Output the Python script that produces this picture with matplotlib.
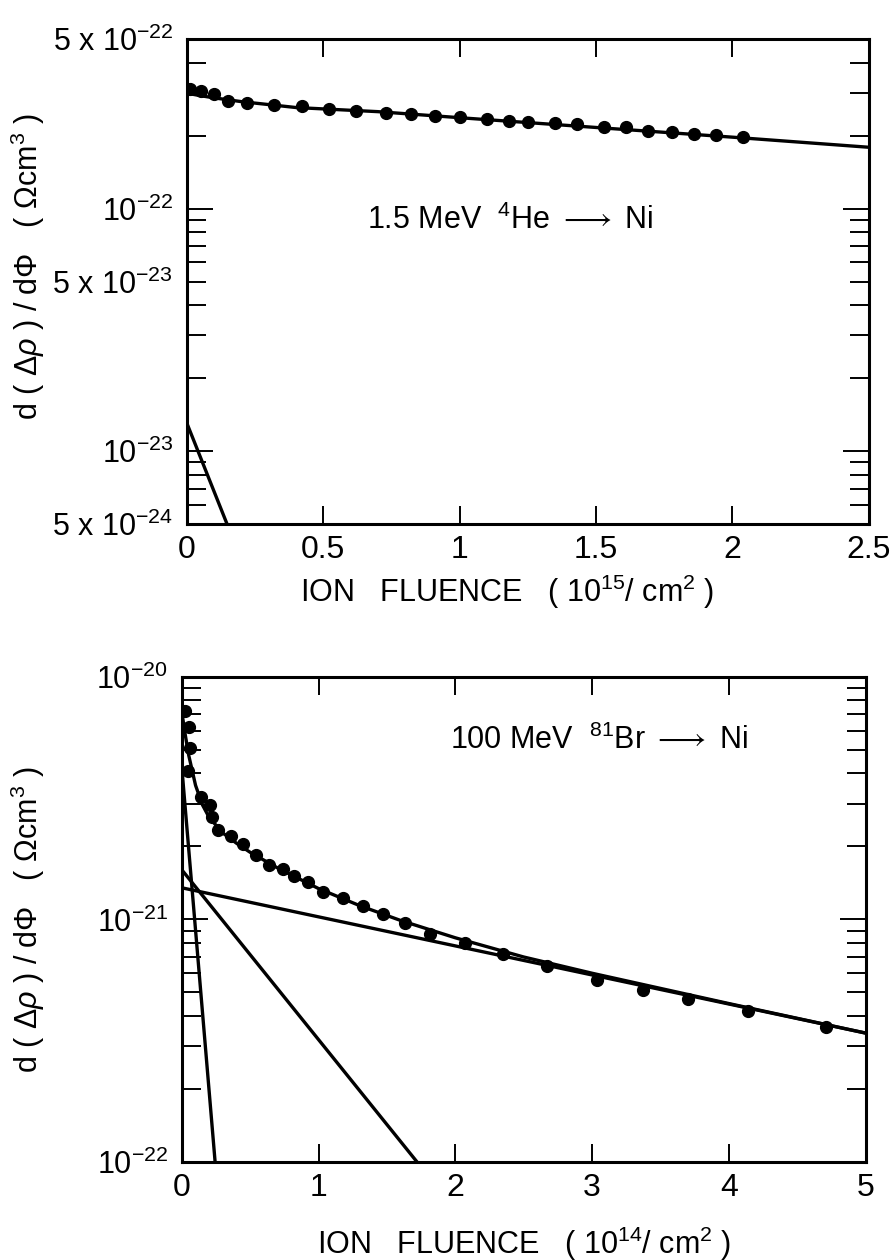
import numpy as np
import matplotlib
matplotlib.use('Agg')
from matplotlib import pyplot as plt
from matplotlib.ticker import LogLocator, FuncFormatter, NullFormatter

plt.rcParams['font.family'] = ['Liberation Sans', 'DejaVu Sans']
plt.rcParams['mathtext.fontset'] = 'custom'
plt.rcParams['mathtext.rm'] = 'Liberation Sans'
plt.rcParams['mathtext.it'] = 'Liberation Sans:italic'
plt.rcParams['mathtext.default'] = 'regular'
plt.rcParams['mathtext.fallback'] = 'stix'

# ---- top panel: 1.5 MeV 4He -> Ni ----
he_x = [0.01, 0.05, 0.10, 0.15, 0.22, 0.32, 0.42, 0.52, 0.62, 0.73, 0.82, 0.91,
        1.00, 1.10, 1.18, 1.25, 1.35, 1.43, 1.53, 1.61, 1.69, 1.78, 1.86, 1.94, 2.04]
he_y = [3.11e-22, 3.05e-22, 2.96e-22, 2.77e-22, 2.72e-22, 2.67e-22, 2.65e-22, 2.57e-22,
        2.52e-22, 2.48e-22, 2.45e-22, 2.41e-22, 2.38e-22, 2.34e-22, 2.29e-22, 2.27e-22,
        2.25e-22, 2.24e-22, 2.17e-22, 2.16e-22, 2.09e-22, 2.07e-22, 2.03e-22, 2.01e-22, 1.97e-22]
# fitted curve and its fast component
he_fit_x = [0.0, 0.05, 0.1, 0.2, 0.4, 0.7, 1.0, 1.5, 2.0, 2.5]
he_fit_y = [2.99e-22, 2.92e-22, 2.86e-22, 2.76e-22, 2.61e-22, 2.51e-22, 2.37e-22,
            2.16e-22, 1.97e-22, 1.79e-22]
he_fast_x = [0.0, 0.147]
he_fast_y = [1.3e-23, 5e-24]

# ---- bottom panel: 100 MeV 81Br -> Ni ----
br_x = [0.022, 0.051, 0.058, 0.044, 0.139, 0.205, 0.219, 0.263, 0.358, 0.446, 0.541,
        0.636, 0.738, 0.819, 0.921, 1.031, 1.177, 1.323, 1.469, 1.630, 1.813, 2.069,
        2.346, 2.668, 3.034, 3.370, 3.699, 4.137, 4.708]
br_y = [7.2e-21, 6.2e-21, 5.1e-21, 4.1e-21, 3.2e-21, 2.97e-21, 2.65e-21, 2.34e-21,
        2.21e-21, 2.05e-21, 1.85e-21, 1.68e-21, 1.62e-21, 1.51e-21, 1.43e-21, 1.30e-21,
        1.23e-21, 1.14e-21, 1.05e-21, 9.7e-22, 8.7e-22, 8.0e-22, 7.2e-22, 6.4e-22,
        5.65e-22, 5.1e-22, 4.7e-22, 4.2e-22, 3.6e-22]
br_fit_x = [0.0, 0.02, 0.05, 0.1, 0.15, 0.2, 0.3, 0.4, 0.5, 0.7, 1.0, 1.3, 1.6,
            2.0, 2.5, 3.0, 4.0, 5.0]
br_fit_y = [7.15e-21, 5.98e-21, 4.75e-21, 3.57e-21, 2.97e-21, 2.63e-21, 2.27e-21,
            2.06e-21, 1.89e-21, 1.63e-21, 1.34e-21, 1.14e-21, 9.9e-22, 8.4e-22,
            7.0e-22, 6.0e-22, 4.5e-22, 3.4e-22]
br_c1_x, br_c1_y = [0.0, 0.243], [4.2e-21, 1e-22]
br_c2_x, br_c2_y = [0.0, 1.72], [1.6e-21, 1e-22]
br_c3_x, br_c3_y = [0.0, 5.0], [1.35e-21, 3.4e-22]

top_xticks = [0, 0.5, 1, 1.5, 2, 2.5]
top_xlabels = ['0', '0.5', '1', '1.5', '2', '2.5']
bot_xticks = [0, 1, 2, 3, 4, 5]
bot_xlabels = ['0', '1', '2', '3', '4', '5']

ylabel_txt = r'd ( Δ$\it{ρ}$ ) / dΦ   ( Ωcm$^{3}$ )'


def dec_fmt(v, pos):
    e = int(round(np.log10(v)))
    return '10$^{%d}$' % e


def five_fmt(v, pos):
    e = int(np.floor(np.log10(v) + 1e-9))
    m = v / 10.0 ** e
    if abs(m - 5) < 0.01:
        return '5 x 10$^{%d}$' % e
    return ''


def style(ax, xticks, xlabels, label5):
    ax.set_yscale('log')
    ax.yaxis.set_major_locator(LogLocator(base=10, numticks=20))
    ax.yaxis.set_minor_locator(LogLocator(base=10, subs=np.arange(2, 10), numticks=20))
    ax.yaxis.set_major_formatter(FuncFormatter(dec_fmt))
    if label5:
        ax.yaxis.set_minor_formatter(FuncFormatter(five_fmt))
    else:
        ax.yaxis.set_minor_formatter(NullFormatter())
    ax.set_xticks(xticks)
    ax.set_xticklabels(xlabels)
    ax.tick_params(axis='both', which='both', direction='in', top=True, right=True,
                   width=1.4, labelsize=22, pad=10)
    ax.tick_params(axis='y', which='major', length=19)
    ax.tick_params(axis='y', which='minor', length=14)
    ax.tick_params(axis='x', which='major', length=13)
    ax.tick_params(axis='x', which='major', pad=8, labelsize=23)
    for s in ax.spines.values():
        s.set_linewidth(2.2)


fig = plt.figure(figsize=(8.96, 12.6), dpi=100)

ax1 = fig.add_axes([0.2087, 0.584, 0.761, 0.385])
ax1.plot(he_fit_x, he_fit_y, color='black', lw=2.4)
ax1.plot(he_fast_x, he_fast_y, color='black', lw=2.4)
ax1.plot(he_x, he_y, 'o', color='black', ms=8.5)
ax1.set_xlim(0, 2.5)
ax1.set_ylim(5e-24, 5e-22)
style(ax1, top_xticks, top_xlabels, True)
ax1.text(0.264, 0.627, r'1.5 MeV  $^{4}$He $\longrightarrow$ Ni', transform=ax1.transAxes,
         fontsize=22, ha='left', va='center')
ax1.set_xlabel(r'ION   FLUENCE   ( 10$^{15}$/ cm$^{2}$ )', fontsize=22)
ax1.xaxis.set_label_coords(0.47, -0.1)
ax1.set_ylabel(ylabel_txt, fontsize=22)
ax1.yaxis.set_label_coords(-0.205, 0.53)

ax2 = fig.add_axes([0.203, 0.0778, 0.763, 0.385])
ax2.plot(br_c1_x, br_c1_y, color='black', lw=2.4)
ax2.plot(br_c2_x, br_c2_y, color='black', lw=2.4)
ax2.plot(br_c3_x, br_c3_y, color='black', lw=2.4)
ax2.plot(br_fit_x, br_fit_y, color='black', lw=2.4)
ax2.plot(br_x, br_y, 'o', color='black', ms=8.5)
ax2.set_xlim(0, 5)
ax2.set_ylim(1e-22, 1e-20)
style(ax2, bot_xticks, bot_xlabels, False)
ax2.text(0.392, 0.87, r'100 MeV  $^{81}$Br $\longrightarrow$ Ni', transform=ax2.transAxes,
         fontsize=22, ha='left', va='center')
ax2.set_xlabel(r'ION   FLUENCE   ( 10$^{14}$/ cm$^{2}$ )', fontsize=22)
ax2.xaxis.set_label_coords(0.5, -0.13)
ax2.set_ylabel(ylabel_txt, fontsize=22)
ax2.yaxis.set_label_coords(-0.198, 0.5)

fig.savefig('out.png', dpi=100)
